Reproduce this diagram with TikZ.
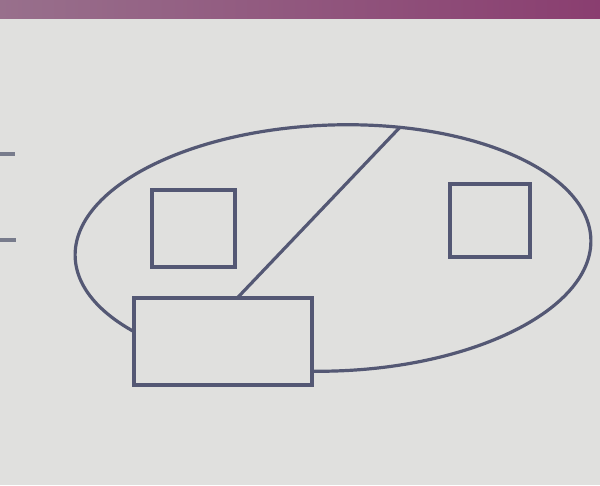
\documentclass[tikz,border=0pt]{standalone}
\usetikzlibrary{shapes.geometric,calc}
\definecolor{paper}{RGB}{224,224,222}
\definecolor{ink}{RGB}{84,88,116}
\definecolor{faint}{RGB}{120,124,140}
\definecolor{bandL}{RGB}{152,112,140}
\definecolor{bandR}{RGB}{138,62,112}
\begin{document}
\begin{tikzpicture}[x=1pt,y=-1pt,
  shapebox/.style={draw=ink, line width=3.2pt, inner sep=0pt, outer sep=0pt},
  inkline/.style={draw=ink, line width=3.2pt},
  stubline/.style={draw=faint, line width=4pt}]
\fill[paper] (0,0) rectangle (600,485);
\shade[left color=bandL, right color=bandR] (0,0) rectangle (600,18);
\useasboundingbox (0,0) rectangle (600,485);
\node[shapebox, ellipse, minimum width=516pt, minimum height=246pt, rotate=2] (ell) at (333,248) {};
\node[shapebox, minimum width=83pt, minimum height=77pt] (sqL) at (193.5,228.5) {};
\node[shapebox, minimum width=80pt, minimum height=73pt] (sqR) at (490,220.5) {};
\node[shapebox, fill=paper, minimum width=178pt, minimum height=87pt] (rect) at (223,341.5) {};
\coordinate (rtop) at ($(rect.north west)!0.58!(rect.north east)$);
\draw[inkline] (ell.59) -- (rtop);
\coordinate (l1a) at (0,154); \coordinate (l1b) at (15,154);
\coordinate (l2a) at (0,240); \coordinate (l2b) at (16,240);
\draw[stubline] (l1a) -- (l1b);
\draw[stubline] (l2a) -- (l2b);
\end{tikzpicture}
\end{document}
